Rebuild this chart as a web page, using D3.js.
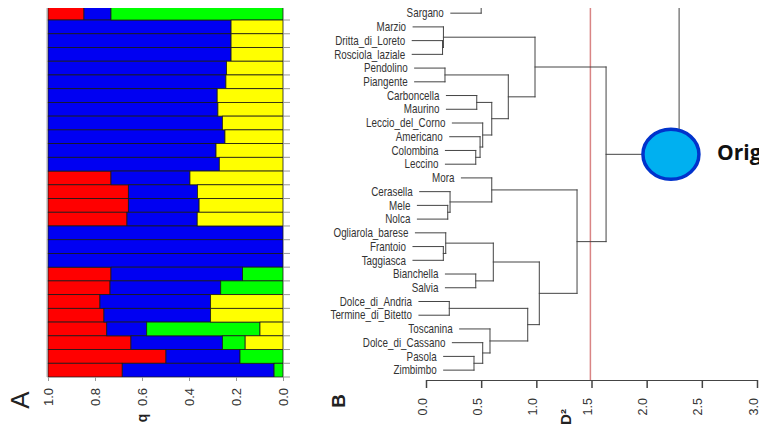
<!DOCTYPE html>
<html>
<head>
<meta charset="utf-8">
<script src="https://cdn.jsdelivr.net/npm/d3@7"></script>
<style>
  body { margin: 0; background: #fff; }
  svg { display: block; font-family: 'Liberation Sans', Arial, sans-serif; }
  .leaf { font-size: 12px; fill: #333; }
</style>
</head>
<body>
<svg id="chart" width="759" height="427"></svg>
<script>
// cultivars, top to bottom (same order in both panels)
var leaves = ['Sargano', 'Marzio', 'Dritta_di_Loreto', 'Rosciola_laziale', 'Pendolino', 'Piangente',
    'Carboncella', 'Maurino', 'Leccio_del_Corno', 'Americano', 'Colombina', 'Leccino', 'Mora',
    'Cerasella', 'Mele', 'Nolca', 'Ogliarola_barese', 'Frantoio', 'Taggiasca', 'Bianchella', 'Salvia',
    'Dolce_di_Andria', 'Termine_di_Bitetto', 'Toscanina', 'Dolce_di_Cassano', 'Pasola', 'Zimbimbo']

// membership q per cluster (panel A)
var qRed = [0.153, 0, 0, 0, 0, 0, 0, 0, 0, 0, 0, 0, 0.268, 0.342, 0.342, 0.336, 0, 0, 0,
    0.268, 0.264, 0.221, 0.238, 0.250, 0.353, 0.502, 0.316]
var qBlue = [0.115, 0.779, 0.779, 0.779, 0.760, 0.757, 0.720, 0.723, 0.742, 0.753, 0.715, 0.729,
    0.336, 0.294, 0.301, 0.299, 1, 1, 1, 0.560, 0.471, 0.471, 0.454, 0.170, 0.389, 0.315, 0.646]
var qGreen = [0.732, 0, 0, 0, 0, 0, 0, 0, 0, 0, 0, 0, 0, 0, 0, 0, 0, 0, 0,
    0.172, 0.265, 0, 0, 0.482, 0.097, 0.183, 0.038]
var qYellow = [0, 0.221, 0.221, 0.221, 0.240, 0.243, 0.280, 0.277, 0.258, 0.247, 0.285, 0.271,
    0.396, 0.364, 0.357, 0.365, 0, 0, 0, 0, 0, 0.308, 0.308, 0.098, 0.161, 0, 0]
var qTicks = [1.0, 0.8, 0.6, 0.4, 0.2, 0.0]

// dendrogram merges (panel B): [child, child, D2 height]; numbers point to earlier merges
var merges = [
    ['Dritta_di_Loreto', 'Rosciola_laziale', 0.150],  // 0
    ['Marzio', 0, 0.158],                              // 1
    ['Pendolino', 'Piangente', 0.172],                 // 2
    ['Carboncella', 'Maurino', 0.460],                 // 3
    ['Colombina', 'Leccino', 0.451],                   // 4
    ['Americano', 4, 0.490],                           // 5
    ['Leccio_del_Corno', 5, 0.514],                    // 6
    [3, 6, 0.596],                                     // 7
    [2, 7, 0.746],                                     // 8
    [1, 8, 0.988],                                     // 9
    ['Mele', 'Nolca', 0.197],                          // 10
    ['Cerasella', 10, 0.218],                          // 11
    ['Mora', 11, 0.596],                               // 12
    ['Frantoio', 'Taggiasca', 0.157],                  // 13
    ['Ogliarola_barese', 13, 0.179],                   // 14
    ['Bianchella', 'Salvia', 0.451],                   // 15
    [14, 15, 0.610],                                   // 16
    ['Dolce_di_Andria', 'Termine_di_Bitetto', 0.211],  // 17
    ['Pasola', 'Zimbimbo', 0.435],                     // 18
    ['Dolce_di_Cassano', 18, 0.514],                   // 19
    ['Toscanina', 19, 0.580],                          // 20
    [17, 20, 0.922],                                   // 21
    [16, 21, 1.027],                                   // 22
    [12, 22, 1.369],                                   // 23
    [9, 23, 1.632]                                     // 24
]
// branches that go on above the cropped top edge
var stubs = [['Sargano', 0.500], [24, 2.294]]
var hang = 0.275
var cutLine = 1.49
var d2Ticks = [0, 0.5, 1, 1.5, 2, 2.5, 3]

var colors = { red: '#ff0000', blue: '#0000f2', green: '#00ff00', yellow: '#ffff00' }

var svg = d3.select('#chart')
svg.append('defs').append('clipPath').attr('id', 'crop')
    .append('rect').attr('x', 0).attr('y', 8).attr('width', 759).attr('height', 419)

// shared rows
var y = d3.scaleBand().domain(leaves).range([6.3, 377])
var bw = y.bandwidth()
function yc(name) { return y(name) + bw / 2 }

// ---------- panel A ----------
var x = d3.scaleLinear().domain([1, 0]).range([48, 283])

var rows = leaves.map(function (d, i) {
    return { name: d, red: qRed[i], blue: qBlue[i], green: qGreen[i], yellow: qYellow[i] }
})
var stack = d3.stack().keys(['red', 'blue', 'green', 'yellow'])(rows)

var gA = svg.append('g').attr('clip-path', 'url(#crop)')

gA.selectAll('g.layer')
    .data(stack)
    .enter().append('g')
    .attr('class', 'layer')
    .style('fill', function (d) { return colors[d.key] })
    .selectAll('rect')
    .data(function (d) { return d.filter(function (s) { return s[1] - s[0] > 0 }) })
    .enter().append('rect')
    .attr('x', function (d) { return x(1 - d[0]) })
    .attr('width', function (d) { return x(1 - d[1]) - x(1 - d[0]) })
    .attr('y', function (d) { return y(d.data.name) })
    .attr('height', bw)
    .style('stroke', '#1a1a1a')
    .style('stroke-width', 0.8)

// left frame line and small ticks on the right side
gA.append('line')
    .attr('x1', x(1) - 1).attr('x2', x(1) - 1)
    .attr('y1', 0).attr('y2', 377)
    .style('stroke', '#aaa')
gA.selectAll('line.rt')
    .data(leaves)
    .enter().append('line')
    .attr('class', 'rt')
    .attr('x1', x(0)).attr('x2', x(0) + 7)
    .attr('y1', function (d) { return y(d) + bw }).attr('y2', function (d) { return y(d) + bw })
    .style('stroke', '#999')

var axA = svg.append('g')
    .attr('transform', 'translate(0,377)')
    .call(d3.axisBottom(x).tickValues(qTicks).tickFormat(d3.format('.1f')).tickSize(4))
axA.select('.domain').style('stroke', '#aaa')
axA.selectAll('line').style('stroke', '#999')
axA.selectAll('text')
    .attr('transform', 'rotate(-90)')
    .attr('x', -11).attr('y', 0).attr('dy', '.32em')
    .style('text-anchor', 'end')
    .style('font-size', '13px')
    .style('fill', '#333')

svg.append('text')
    .attr('transform', 'translate(20,400) rotate(-90)')
    .attr('dy', '.35em')
    .style('text-anchor', 'middle')
    .style('font-size', '26px')
    .style('fill', '#222')
    .text('A')
svg.append('text')
    .attr('transform', 'translate(142,418) rotate(-90)')
    .attr('dy', '.35em')
    .style('text-anchor', 'middle')
    .style('font-size', '14px')
    .style('font-weight', 'bold')
    .style('fill', '#222')
    .text('q')

// ---------- panel B ----------
var xd = d3.scaleLinear().domain([0, 3]).range([426, 757])

// node positions
var nodeY = merges.map(function () { return 0 })
function childY(c) { return typeof c === 'number' ? nodeY[c] : yc(c) }
merges.forEach(function (m, i) { nodeY[i] = (childY(m[0]) + childY(m[1])) / 2 })

var segs = []
var leafStart = {}
function addChild(c, h) {
    var cy = childY(c)
    var from = typeof c === 'number' ? merges[c][2] : h - hang
    if (typeof c !== 'number') leafStart[c] = h - hang
    segs.push([xd(from), cy, xd(h), cy])
}
merges.forEach(function (m) {
    addChild(m[0], m[2])
    addChild(m[1], m[2])
    segs.push([xd(m[2]), childY(m[0]), xd(m[2]), childY(m[1])])
})
stubs.forEach(function (s) {
    addChild(s[0], s[1])
    segs.push([xd(s[1]), childY(s[0]), xd(s[1]), 0])
})

var gB = svg.append('g').attr('clip-path', 'url(#crop)')

gB.append('line')
    .attr('x1', xd(cutLine)).attr('x2', xd(cutLine))
    .attr('y1', 0).attr('y2', 380)
    .style('stroke', '#d98585')
    .style('stroke-width', 1.5)

gB.selectAll('line.br')
    .data(segs)
    .enter().append('line')
    .attr('class', 'br')
    .attr('x1', function (d) { return d[0] })
    .attr('y1', function (d) { return d[1] })
    .attr('x2', function (d) { return d[2] })
    .attr('y2', function (d) { return d[3] })
    .style('stroke', '#444')
    .style('stroke-width', 1)
    .style('stroke-linecap', 'square')

// condensed cultivar labels
gB.selectAll('text.leaf')
    .data(leaves)
    .enter().append('text')
    .attr('class', 'leaf')
    .attr('transform', function (d) {
        return 'translate(' + (xd(leafStart[d]) - 7) + ',' + yc(d) + ') scale(0.82,1)'
    })
    .attr('dy', '.35em')
    .style('text-anchor', 'end')
    .text(function (d) { return d })

var axB = svg.append('g')
    .attr('transform', 'translate(0,380)')
    .call(d3.axisBottom(xd).tickValues(d2Ticks).tickFormat(d3.format('.1f')).tickSize(8).tickSizeOuter(0))
axB.select('.domain').style('stroke', '#444')
axB.selectAll('line').style('stroke', '#444').style('stroke-width', 1.5)
axB.selectAll('text')
    .attr('transform', 'rotate(-90)')
    .attr('x', -18).attr('y', 0).attr('dy', '0em')
    .style('text-anchor', 'end')
    .style('font-size', '12.5px')
    .style('fill', '#333')

svg.append('text')
    .attr('transform', 'translate(338,401) rotate(-90)')
    .attr('dy', '.35em')
    .style('text-anchor', 'middle')
    .style('font-size', '19px')
    .style('font-weight', 'bold')
    .style('fill', '#222')
    .text('B')
svg.append('text')
    .attr('transform', 'translate(566,417) rotate(-90)')
    .attr('dy', '.35em')
    .style('text-anchor', 'middle')
    .style('font-size', '15px')
    .style('font-weight', 'bold')
    .style('fill', '#222')
    .text('D²')

// origin marker on the top junction
svg.append('ellipse')
    .attr('cx', xd(2.22)).attr('cy', nodeY[24])
    .attr('rx', 28).attr('ry', 25)
    .style('fill', '#00b0f0')
    .style('stroke', '#0033cc')
    .style('stroke-width', 3.5)
svg.append('text')
    .attr('x', 717).attr('y', nodeY[24] + 6)
    .style('font-family', "'Open Sans', sans-serif")
    .style('font-size', '21px')
    .style('font-weight', 'bold')
    .style('fill', '#111')
    .text('Orig')
</script>
</body>
</html>
